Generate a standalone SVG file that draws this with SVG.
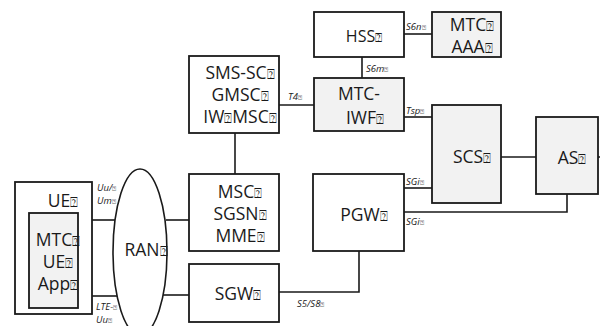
<svg xmlns="http://www.w3.org/2000/svg" width="600" height="326" viewBox="0 0 600 326">
<style>
.box{fill:#ffffff;stroke:#1a1a1a;stroke-width:1.8}
.gbox{fill:#f2f2f2;stroke:#1a1a1a;stroke-width:1.8}
.ln{fill:none;stroke:#1a1a1a;stroke-width:1.6}
.t{font-family:"Open Sans","Noto Sans","DejaVu Sans",sans-serif;font-size:17.5px;fill:#1a1a1a;text-anchor:middle}
.s{font-family:"Open Sans","Noto Sans","DejaVu Sans",sans-serif;font-size:9.5px;font-style:italic;fill:#1a1a1a}
.q{font-family:"DejaVu Sans",sans-serif;font-size:0.72em;font-style:normal}
</style>
<rect width="600" height="326" fill="#ffffff"/>
<g id="connectors">
<line class="ln" x1="235" y1="133" x2="235" y2="174"/>
<line class="ln" x1="279" y1="105" x2="314" y2="105"/>
<line class="ln" x1="404" y1="34" x2="432" y2="34"/>
<line class="ln" x1="362" y1="57" x2="362" y2="78"/>
<line class="ln" x1="404" y1="117" x2="432" y2="117"/>
<line class="ln" x1="501" y1="157" x2="536" y2="157"/>
<line class="ln" x1="598" y1="157" x2="600" y2="157"/>
<line class="ln" x1="404" y1="188" x2="432" y2="188"/>
<polyline class="ln" points="404,212 567,212 567,194"/>
<polyline class="ln" points="359,251 359,292 279,292"/>
<line class="ln" x1="92" y1="220" x2="115" y2="220"/>
<line class="ln" x1="92" y1="296" x2="117" y2="296"/>
<line class="ln" x1="166" y1="220" x2="189" y2="220"/>
<line class="ln" x1="163" y1="295" x2="189" y2="295"/>
<text class="s" x="288" y="100">T4<tspan class="q">⍰</tspan></text>
<text class="s" x="406" y="30">S6n<tspan class="q">⍰</tspan></text>
<text class="s" x="366" y="72">S6m<tspan class="q">⍰</tspan></text>
<text class="s" x="406" y="114">Tsp<tspan class="q">⍰</tspan></text>
<text class="s" x="406" y="185">SGi<tspan class="q">⍰</tspan></text>
<text class="s" x="406" y="225">SGi<tspan class="q">⍰</tspan></text>
<text class="s" x="297" y="307">S5/S8<tspan class="q">⍰</tspan></text>
<text class="s" x="97" y="191">Uu/<tspan class="q">⍰</tspan></text>
<text class="s" x="97" y="204">Um<tspan class="q">⍰</tspan></text>
<text class="s" x="96" y="310">LTE-<tspan class="q">⍰</tspan></text>
<text class="s" x="96" y="323">Uu<tspan class="q">⍰</tspan></text>
</g>
<g id="smssc">
<rect class="box" x="189" y="56" width="90" height="77"/>
<text class="t" x="240" y="79">SMS-SC<tspan class="q">⍰</tspan></text>
<text class="t" x="240" y="101">GMSC<tspan class="q">⍰</tspan></text>
<text class="t" x="240" y="123">IW<tspan class="q">⍰</tspan>MSC<tspan class="q">⍰</tspan></text>
</g>
<g id="hss">
<rect class="box" x="314" y="12" width="90" height="45"/>
<text class="t" x="364" y="42" style="font-size:16px">HSS<tspan class="q">⍰</tspan></text>
</g>
<g id="mtcaaa">
<rect class="gbox" x="432" y="12" width="69" height="45"/>
<text class="t" x="472" y="31">MTC<tspan class="q">⍰</tspan></text>
<text class="t" x="472" y="53">AAA<tspan class="q">⍰</tspan></text>
</g>
<g id="mtciwf">
<rect class="gbox" x="314" y="78" width="90" height="53"/>
<text class="t" x="359" y="100">MTC-</text>
<text class="t" x="365" y="124">IWF<tspan class="q">⍰</tspan></text>
</g>
<g id="scs">
<rect class="gbox" x="432" y="105" width="69" height="98"/>
<text class="t" x="472" y="163">SCS<tspan class="q">⍰</tspan></text>
</g>
<g id="as">
<rect class="gbox" x="536" y="117" width="62" height="77"/>
<text class="t" x="572" y="164">AS<tspan class="q">⍰</tspan></text>
</g>
<g id="pgw">
<rect class="box" x="313" y="174" width="91" height="77"/>
<text class="t" x="364" y="221">PGW<tspan class="q">⍰</tspan></text>
</g>
<g id="msc">
<rect class="box" x="189" y="174" width="90" height="77"/>
<text class="t" x="240" y="198">MSC<tspan class="q">⍰</tspan></text>
<text class="t" x="240" y="220">SGSN<tspan class="q">⍰</tspan></text>
<text class="t" x="240" y="242">MME<tspan class="q">⍰</tspan></text>
</g>
<g id="sgw">
<rect class="box" x="189" y="264" width="90" height="58"/>
<text class="t" x="238" y="300">SGW<tspan class="q">⍰</tspan></text>
</g>
<g id="ran">
<ellipse cx="140" cy="252" rx="27" ry="83" fill="#ffffff" stroke="#1a1a1a" stroke-width="1.6"/>
<text class="t" x="146" y="256">RAN<tspan class="q">⍰</tspan></text>
</g>
<g id="ue">
<rect class="box" x="15" y="182" width="77" height="132"/>
<text class="t" x="63" y="207">UE<tspan class="q">⍰</tspan></text>
</g>
<g id="mtcueapp">
<rect class="gbox" x="29" y="213" width="49" height="95"/>
<text class="t" x="58" y="246">MTC<tspan class="q">⍰</tspan></text>
<text class="t" x="58" y="268">UE<tspan class="q">⍰</tspan></text>
<text class="t" x="58" y="290">App<tspan class="q">⍰</tspan></text>
</g>
</svg>
